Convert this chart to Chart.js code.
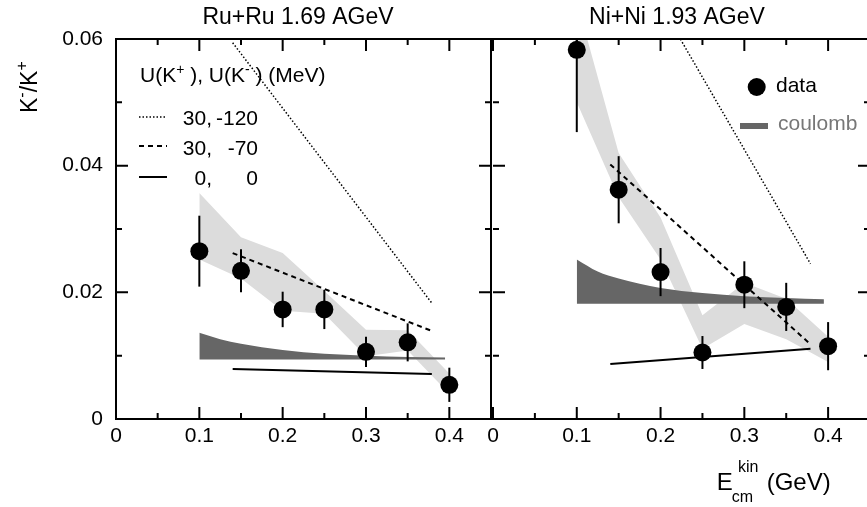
<!DOCTYPE html>
<html>
<head>
<meta charset="utf-8">
<script src="https://cdn.jsdelivr.net/npm/chart.js@4.4.1/dist/chart.umd.min.js"></script>
<style>
  html, body { margin: 0; padding: 0; background: #fff; overflow: hidden; }
  .wrap { position: relative; width: 867px; height: 507px; overflow: hidden; }
  canvas { position: absolute; top: 0; }
  #ru { left: 0; }
  #ni { left: 480px; }
</style>
</head>
<body>
<div class="wrap">
  <canvas id="ru" width="500" height="507"></canvas>
  <canvas id="ni" width="400" height="507"></canvas>
</div>
<script>
const FONT = "'Liberation Sans', Arial, Helvetica, sans-serif";

// shared x positions
const energy = [0.1, 0.15, 0.2, 0.25, 0.3, 0.35, 0.4];
const coulombX = [0.1, 0.125, 0.15, 0.2, 0.25, 0.3, 0.35, 0.395];
const lineX = [0.14, 0.379];

// Ru+Ru 1.69 AGeV
const ruRatio = [0.0265, 0.0234, 0.0173, 0.0173, 0.0106, 0.0121, 0.0054];
const ruErr = [0.0056, 0.0034, 0.0028, 0.0031, 0.0024, 0.0030, 0.0027];
const ruBandHi = [0.0357, 0.0287, 0.0262, 0.0202, 0.0141, 0.0140, 0.0072];
const ruBandLo = [0.0252, 0.0222, 0.0171, 0.0166, 0.0099, 0.0108, 0.0040];
const ruCoulombHi = [0.0136, 0.0126, 0.0119, 0.0109, 0.0103, 0.0100, 0.0098, 0.0097];
const ruCoulombBase = 0.0094;
const ruDotted = [0.0594, 0.0183];
const ruDashed = [0.0262, 0.0139];
const ruSolid = [0.0079, 0.0071];

// Ni+Ni 1.93 AGeV
const niRatio = [0.0583, 0.0362, 0.0232, 0.0105, 0.0212, 0.0177, 0.0115];
const niErr = [0.0130, 0.0053, 0.0038, 0.0026, 0.0037, 0.0038, 0.0038];
const niBandHi = [0.0660, 0.0420, 0.0318, 0.0164, 0.0215, 0.0190, 0.0130];
const niBandLo = [0.0500, 0.0350, 0.0252, 0.0111, 0.0150, 0.0126, 0.0090];
const niCoulombHi = [0.0252, 0.0233, 0.0222, 0.0207, 0.0199, 0.0194, 0.0191, 0.0189];
const niCoulombBase = 0.0182;
const niDotted = [0.0791, 0.0245];
const niDashed = [0.0402, 0.0118];
const niSolid = [0.0087, 0.0111];

// axes
const xTicks = [0, 0.1, 0.2, 0.3, 0.4];
const xTickLabels = ['0', '0.1', '0.2', '0.3', '0.4'];
const xMinor = [0.05, 0.15, 0.25, 0.35];
const yTicks = [0, 0.02, 0.04, 0.06];
const yTickLabels = ['0', '0.02', '0.04', '0.06'];
const yMinor = [0.01, 0.03, 0.05];

const NONE = 'rgba(0,0,0,0)';
const pts = (xs, ys) => xs.map((x, i) => ({ x: x, y: ys[i] }));

function datasets(p) {
  return [
    { data: pts(energy, p.ratio), err: p.err, showLine: false, pointRadius: 9, pointHoverRadius: 9,
      backgroundColor: '#000', borderColor: '#000', borderWidth: 0, order: 0 },
    { data: pts(lineX, p.solid), showLine: true, borderColor: '#000', borderWidth: 2, pointRadius: 0, order: 1 },
    { data: pts(lineX, p.dashed), showLine: true, borderColor: '#000', borderWidth: 2, borderDash: [5, 4],
      pointRadius: 0, order: 2 },
    { data: pts(lineX, p.dotted), showLine: true, borderColor: '#000', borderWidth: 1.5, borderDash: [1.5, 2],
      pointRadius: 0, order: 3 },
    { data: pts(coulombX, p.coulombHi), showLine: true, fill: { value: p.coulombBase }, backgroundColor: '#666',
      borderColor: NONE, pointRadius: 0, cubicInterpolationMode: 'monotone', order: 4 },
    { data: pts(energy, p.bandHi), showLine: true, fill: '+1', backgroundColor: '#dcdcdc',
      borderColor: NONE, pointRadius: 0, order: 5 },
    { data: pts(energy, p.bandLo), showLine: true, fill: false, borderColor: NONE, pointRadius: 0, order: 6 },
  ];
}

const errorBars = {
  id: 'errorBars',
  beforeDatasetDraw(chart, args) {
    const ds = chart.data.datasets[args.index];
    if (!ds.err) return;
    const { ctx, chartArea: a, scales: { x, y } } = chart;
    ctx.save();
    ctx.beginPath();
    ctx.rect(a.left, a.top, a.right - a.left, a.bottom - a.top);
    ctx.clip();
    ctx.strokeStyle = '#000';
    ctx.lineWidth = 2;
    ds.data.forEach((pt, i) => {
      const px = x.getPixelForValue(pt.x);
      ctx.beginPath();
      ctx.moveTo(px, y.getPixelForValue(pt.y + ds.err[i]));
      ctx.lineTo(px, y.getPixelForValue(pt.y - ds.err[i]));
      ctx.stroke();
    });
    ctx.restore();
  }
};

// box and inward ticks; the shared middle line is drawn by the left panel only
function framePlugin(drawLeftEdge) {
  return {
    id: 'frame',
    afterDraw(chart) {
      const { ctx, chartArea: a, scales: { x, y } } = chart;
      ctx.save();
      ctx.strokeStyle = '#000';
      ctx.lineWidth = 2;
      ctx.beginPath();
      if (drawLeftEdge) {
        ctx.moveTo(a.left, a.top - 1); ctx.lineTo(a.left, a.bottom + 1);
      }
      ctx.moveTo(a.left - 1, a.top); ctx.lineTo(a.right + 1, a.top);
      ctx.moveTo(a.left - 1, a.bottom); ctx.lineTo(a.right + 1, a.bottom);
      ctx.moveTo(a.right, a.top - 1); ctx.lineTo(a.right, a.bottom + 1);
      const xt = (v, len) => {
        const px = x.getPixelForValue(v);
        ctx.moveTo(px, a.bottom); ctx.lineTo(px, a.bottom - len);
        ctx.moveTo(px, a.top); ctx.lineTo(px, a.top + len);
      };
      const yt = (v, len) => {
        const py = y.getPixelForValue(v);
        ctx.moveTo(a.left, py); ctx.lineTo(a.left + len, py);
        ctx.moveTo(a.right, py); ctx.lineTo(a.right - len, py);
      };
      xTicks.forEach(v => xt(v, 12));
      xMinor.forEach(v => xt(v, 6));
      yTicks.forEach(v => yt(v, 12));
      yMinor.forEach(v => yt(v, 6));
      ctx.stroke();
      ctx.restore();
    }
  };
}

// draw a run of [text, size, dy] pieces from x on baseline y
function runText(ctx, x, y, parts) {
  parts.forEach(([t, size, dy]) => {
    ctx.font = size + 'px ' + FONT;
    ctx.fillText(t, x, y + (dy || 0));
    x += ctx.measureText(t).width;
  });
}

function textPlugin(draw) {
  return {
    id: 'texts',
    afterDraw(chart) {
      const ctx = chart.ctx;
      ctx.save();
      ctx.fillStyle = '#000';
      ctx.textBaseline = 'alphabetic';
      draw(ctx, chart);
      ctx.restore();
    }
  };
}

function legendLine(ctx, y, dash, width) {
  ctx.save();
  ctx.strokeStyle = '#000';
  ctx.lineWidth = width;
  ctx.setLineDash(dash);
  ctx.beginPath();
  ctx.moveTo(139, y);
  ctx.lineTo(167, y);
  ctx.stroke();
  ctx.restore();
}

const ruTexts = textPlugin(ctx => {
  ctx.textAlign = 'center';
  ctx.font = '23px ' + FONT;
  ctx.fillText('Ru+Ru 1.69 AGeV', 298, 24);

  // y axis title
  ctx.save();
  ctx.translate(37, 113);
  ctx.rotate(-Math.PI / 2);
  ctx.textAlign = 'left';
  runText(ctx, 0, 0, [['K', 23], ['-', 16, -10], ['/K', 23], ['+', 16, -10]]);
  ctx.restore();

  // potentials legend
  ctx.textAlign = 'left';
  runText(ctx, 140, 82, [['U(K', 21], ['+', 14, -8], [' ), U(K', 21], ['-', 14, -8], [' ) (MeV)', 21]]);
  legendLine(ctx, 117, [1.5, 2], 1.5);
  legendLine(ctx, 146, [5, 4], 2);
  legendLine(ctx, 177, [], 2);
  ctx.font = '21px ' + FONT;
  ctx.textAlign = 'right';
  [['30,', '-120', 125], ['30,', '-70', 155], ['0,', '0', 185]].forEach(([a, b, y]) => {
    ctx.fillText(a, 212, y);
    ctx.fillText(b, 258, y);
  });
});

const niTexts = textPlugin(ctx => {
  ctx.textAlign = 'center';
  ctx.font = '23px ' + FONT;
  ctx.fillText('Ni+Ni 1.93 AGeV', 197, 24);

  // legend
  ctx.beginPath();
  ctx.arc(276.7, 87, 9, 0, Math.PI * 2);
  ctx.fill();
  ctx.fillStyle = '#666';
  ctx.fillRect(260, 123, 28, 6);
  ctx.textAlign = 'left';
  ctx.font = '21px ' + FONT;
  ctx.fillStyle = '#000';
  ctx.fillText('data', 296, 92);
  ctx.fillStyle = '#777';
  ctx.fillText('coulomb', 298, 130);

  // x axis title
  ctx.fillStyle = '#000';
  ctx.font = '24px ' + FONT;
  ctx.fillText('E', 236.7, 490);
  ctx.font = '16px ' + FONT;
  ctx.fillText('kin', 258, 472);
  ctx.fillText('cm', 251.7, 502);
  ctx.font = '24px ' + FONT;
  ctx.fillText('(GeV)', 286.7, 490);
});

function makeChart(id, p, showY, padding, texts) {
  return new Chart(document.getElementById(id).getContext('2d'), {
    type: 'scatter',
    data: { datasets: datasets(p) },
    options: {
      responsive: false,
      animation: false,
      events: [],
      layout: { padding: padding },
      plugins: { legend: { display: false }, tooltip: { enabled: false } },
      scales: {
        x: {
          type: 'linear', min: 0, max: 0.45,
          grid: { display: false, drawTicks: false },
          border: { display: false },
          afterBuildTicks: s => { s.ticks = xTicks.map(v => ({ value: v })); },
          afterFit: s => { s.height = 88; },
          ticks: {
            callback: (v, i) => xTickLabels[i],
            font: { family: FONT, size: 21 }, color: '#000',
            padding: 5, maxRotation: 0, autoSkip: false
          }
        },
        y: {
          type: 'linear', min: 0, max: 0.06, display: showY,
          grid: { display: false, drawTicks: false },
          border: { display: false },
          afterBuildTicks: s => { s.ticks = yTicks.map(v => ({ value: v })); },
          afterFit: s => { s.width = showY ? 116 : 0; },
          ticks: {
            callback: (v, i) => yTickLabels[i],
            font: { family: FONT, size: 21 }, color: '#000',
            padding: 13
          }
        }
      }
    },
    plugins: [errorBars, framePlugin(showY), texts]
  });
}

makeChart('ru', {
  ratio: ruRatio, err: ruErr, bandHi: ruBandHi, bandLo: ruBandLo,
  coulombHi: ruCoulombHi, coulombBase: ruCoulombBase,
  dotted: ruDotted, dashed: ruDashed, solid: ruSolid
}, true, { left: 0, top: 39, right: 7, bottom: 0 }, ruTexts);

makeChart('ni', {
  ratio: niRatio, err: niErr, bandHi: niBandHi, bandLo: niBandLo,
  coulombHi: niCoulombHi, coulombBase: niCoulombBase,
  dotted: niDotted, dashed: niDashed, solid: niSolid
}, false, { left: 13, top: 39, right: 10, bottom: 0 }, niTexts);
</script>
</body>
</html>
